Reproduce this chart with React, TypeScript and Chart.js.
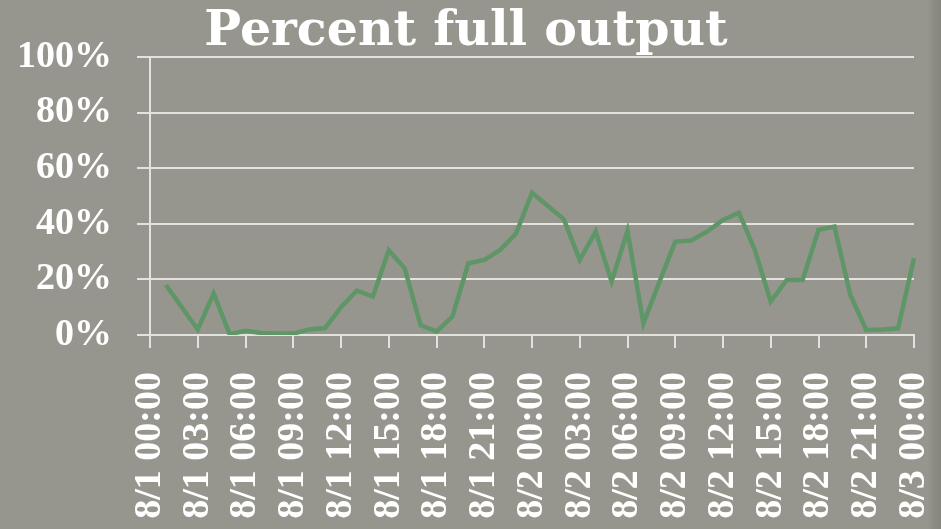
import React, { useEffect, useRef } from "react";
import { Chart, registerables } from "chart.js";

Chart.register(...registerables);

const chartTitle = "Percent full output";

const tickLabels = [
  "8/1 00:00", "8/1 03:00", "8/1 06:00", "8/1 09:00", "8/1 12:00", "8/1 15:00",
  "8/1 18:00", "8/1 21:00", "8/2 00:00", "8/2 03:00", "8/2 06:00", "8/2 09:00",
  "8/2 12:00", "8/2 15:00", "8/2 18:00", "8/2 21:00", "8/3 00:00",
];

const days = ["8/1", "8/2"];
const hours = Array.from({ length: 24 }, (_, h) => String(h).padStart(2, "0") + ":00");
const categories = [...days.flatMap((d) => hours.map((h) => d + " " + h)), "8/3 00:00"];

// hourly values, first category (8/1 00:00) has no reading
const outputPercent = [
  null,
  18, 10, 2, 15, 0.3, 1.5, 0.7, 0.5, 0.5, 2, 2.5, 10,
  16, 13.8, 30.5, 24, 3.6, 1.2, 6.6, 25.8, 27, 30.6, 36.6, 51.2,
  46.4, 41.6, 27, 37.2, 19.2, 37.5, 4.2, 19, 33.6, 34, 37.2, 41.4,
  44, 30.6, 12, 19.8, 19.8, 37.8, 39, 14.4, 1.8, 2, 2.4, 27.6,
];

const yTicks = [0, 20, 40, 60, 80, 100];

export default function App() {
  const ref = useRef<HTMLCanvasElement | null>(null);

  useEffect(() => {
    if (!ref.current) return;
    const gridColor = "#e2e2de";
    const tickFont = { family: "'Liberation Serif', serif", size: 38, weight: "bold" as const, lineHeight: 1.2 };
    const chart = new Chart(ref.current, {
      type: "line",
      data: {
        labels: categories,
        datasets: [
          {
            data: outputPercent,
            borderColor: "#5f9667",
            borderWidth: 4.5,
            pointRadius: 0,
            tension: 0,
            fill: false,
          },
        ],
      },
      options: {
        responsive: false,
        animation: false,
        layout: { padding: { left: 0, right: 9, top: 0, bottom: 0 } },
        plugins: {
          legend: { display: false },
          tooltip: { enabled: false },
          title: {
            display: true,
            text: chartTitle,
            color: "#ffffff",
            font: { family: "'DejaVu Serif', serif", size: 49, weight: "bold", lineHeight: 1.0 },
            padding: { top: 8, bottom: 0 },
          },
        },
        scales: {
          x: {
            type: "category",
            offset: false,
            grid: {
              drawOnChartArea: false,
              drawTicks: true,
              tickLength: 13,
              color: gridColor,
              lineWidth: 2,
            },
            border: { display: true, color: gridColor, width: 2 },
            ticks: {
              autoSkip: false,
              minRotation: 90,
              maxRotation: 90,
              padding: 24,
              color: "#ffffff",
              font: tickFont,
              callback: (_v: any, i: number) => (i % 3 === 0 ? tickLabels[i / 3] : null),
            },
            afterFit: (scale: any) => {
              scale.height = 194;
              scale.paddingLeft = 0;
              scale.paddingRight = 27;
            },
          },
          y: {
            min: 0,
            max: 100,
            afterBuildTicks: (scale: any) => {
              scale.ticks = yTicks.map((v) => ({ value: v }));
            },
            grid: { color: gridColor, lineWidth: 2, tickLength: 13 },
            border: { display: true, color: gridColor, width: 2 },
            ticks: {
              padding: 25,
              color: "#ffffff",
              font: tickFont,
              callback: (v: any) => v + "%",
            },
            afterFit: (scale: any) => {
              scale.width = 150;
            },
          },
        },
      },
    });
    return () => chart.destroy();
  }, []);

  return (
    <div
      style={{
        position: "absolute",
        left: 0,
        top: 0,
        width: 941,
        height: 529,
        overflow: "hidden",
        background: "linear-gradient(to right, #97968e 0px, #97968e 928px, #8c8b84 934px, #85847d 941px)",
      }}
    >
      <canvas ref={ref} width={941} height={529} style={{ display: "block" }} />
    </div>
  );
}
